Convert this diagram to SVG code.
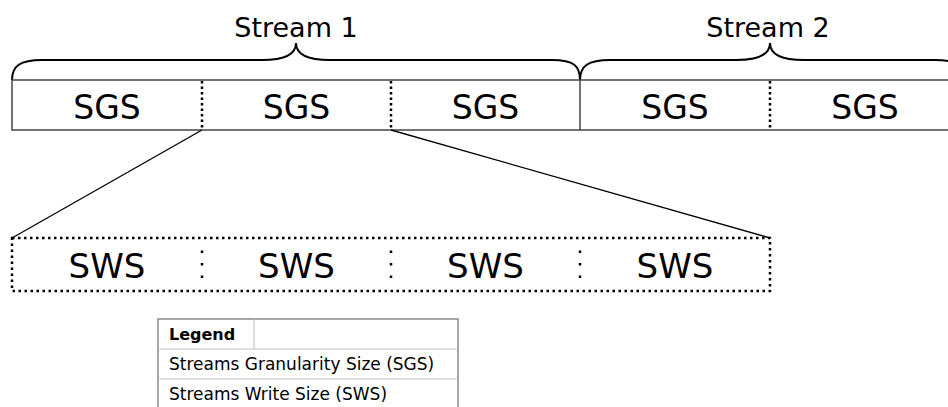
<svg xmlns="http://www.w3.org/2000/svg" width="948" height="407" viewBox="0 0 948 407">
<style>
  text { font-family: "DejaVu Sans", Verdana, sans-serif; fill: #000; }
  .title { font-size: 27px; text-anchor: middle; }
  .cell { font-size: 33px; text-anchor: middle; }
  .cellw { font-size: 34px; text-anchor: middle; }
  .leg { font-size: 17px; }
  .legb { font-size: 16px; font-weight: bold; }
  .bar { fill: #fff; stroke: #444; stroke-width: 1.5; }
  .dotv { stroke: #000; stroke-width: 2.5; stroke-dasharray: 2.5,3; }
  .dotbox { fill: none; stroke: #000; stroke-width: 2.5; stroke-dasharray: 2.5,3.5; }
  .dotsparse { stroke: #000; stroke-width: 2.5; stroke-dasharray: 2.5,10; }
  .brace { fill: none; stroke: #000; stroke-width: 2; }
  .conn { stroke: #000; stroke-width: 1.3; fill: none; }
  .legout { fill: #fff; stroke: #777; stroke-width: 1.3; }
  .legin { stroke: #bbb; stroke-width: 1; }
</style>

<g id="stream1">
  <path class="brace" d="M12,80 C12,66 20,60 42,60 L262,60 C284,60 296,55 296,43 C296,55 308,60 330,60 L552,60 C574,60 580,66 580,80"/>
  <text class="title" x="296" y="37">Stream 1</text>
</g>
<g id="stream2">
  <path class="brace" d="M580,80 C580,66 588,60 610,60 L736,60 C758,60 770,55 770,43 C770,55 782,60 804,60 L935,60 C957,60 963,66 963,80"/>
  <text class="title" x="768" y="37">Stream 2</text>
</g>

<g id="sgs-bar">
  <rect class="bar" x="12" y="80" width="950" height="50"/>
  <line x1="580" y1="80" x2="580" y2="130" stroke="#444" stroke-width="1.5"/>
  <line class="dotv" x1="202" y1="81" x2="202" y2="130"/>
  <line class="dotv" x1="391" y1="81" x2="391" y2="130"/>
  <line class="dotv" x1="770" y1="81" x2="770" y2="130"/>
  <text class="cell" x="107" y="119">SGS</text>
  <text class="cell" x="296.5" y="119">SGS</text>
  <text class="cell" x="485.5" y="119">SGS</text>
  <text class="cell" x="675" y="119">SGS</text>
  <text class="cell" x="865" y="119">SGS</text>
</g>

<g id="connectors">
  <line class="conn" x1="202" y1="130" x2="12" y2="238"/>
  <line class="conn" x1="391" y1="130" x2="770" y2="238"/>
</g>

<g id="sws-bar">
  <rect class="dotbox" x="12" y="238" width="758" height="53"/>
  <line class="dotsparse" x1="202" y1="250.5" x2="202" y2="280"/>
  <line class="dotsparse" x1="391" y1="250.5" x2="391" y2="280"/>
  <line class="dotsparse" x1="580" y1="250.5" x2="580" y2="280"/>
  <text class="cellw" x="107" y="278">SWS</text>
  <text class="cellw" x="296.5" y="278">SWS</text>
  <text class="cellw" x="485.5" y="278">SWS</text>
  <text class="cellw" x="675" y="278">SWS</text>
</g>

<g id="legend">
  <rect class="legout" x="158" y="319" width="300" height="100"/>
  <line class="legin" x1="158" y1="349" x2="458" y2="349"/>
  <line class="legin" x1="158" y1="379" x2="458" y2="379"/>
  <line class="legin" x1="254" y1="319" x2="254" y2="349"/>
  <text class="legb" x="169" y="340">Legend</text>
  <text class="leg" x="169" y="370">Streams Granularity Size (SGS)</text>
  <text class="leg" x="169" y="400">Streams Write Size (SWS)</text>
</g>
</svg>
